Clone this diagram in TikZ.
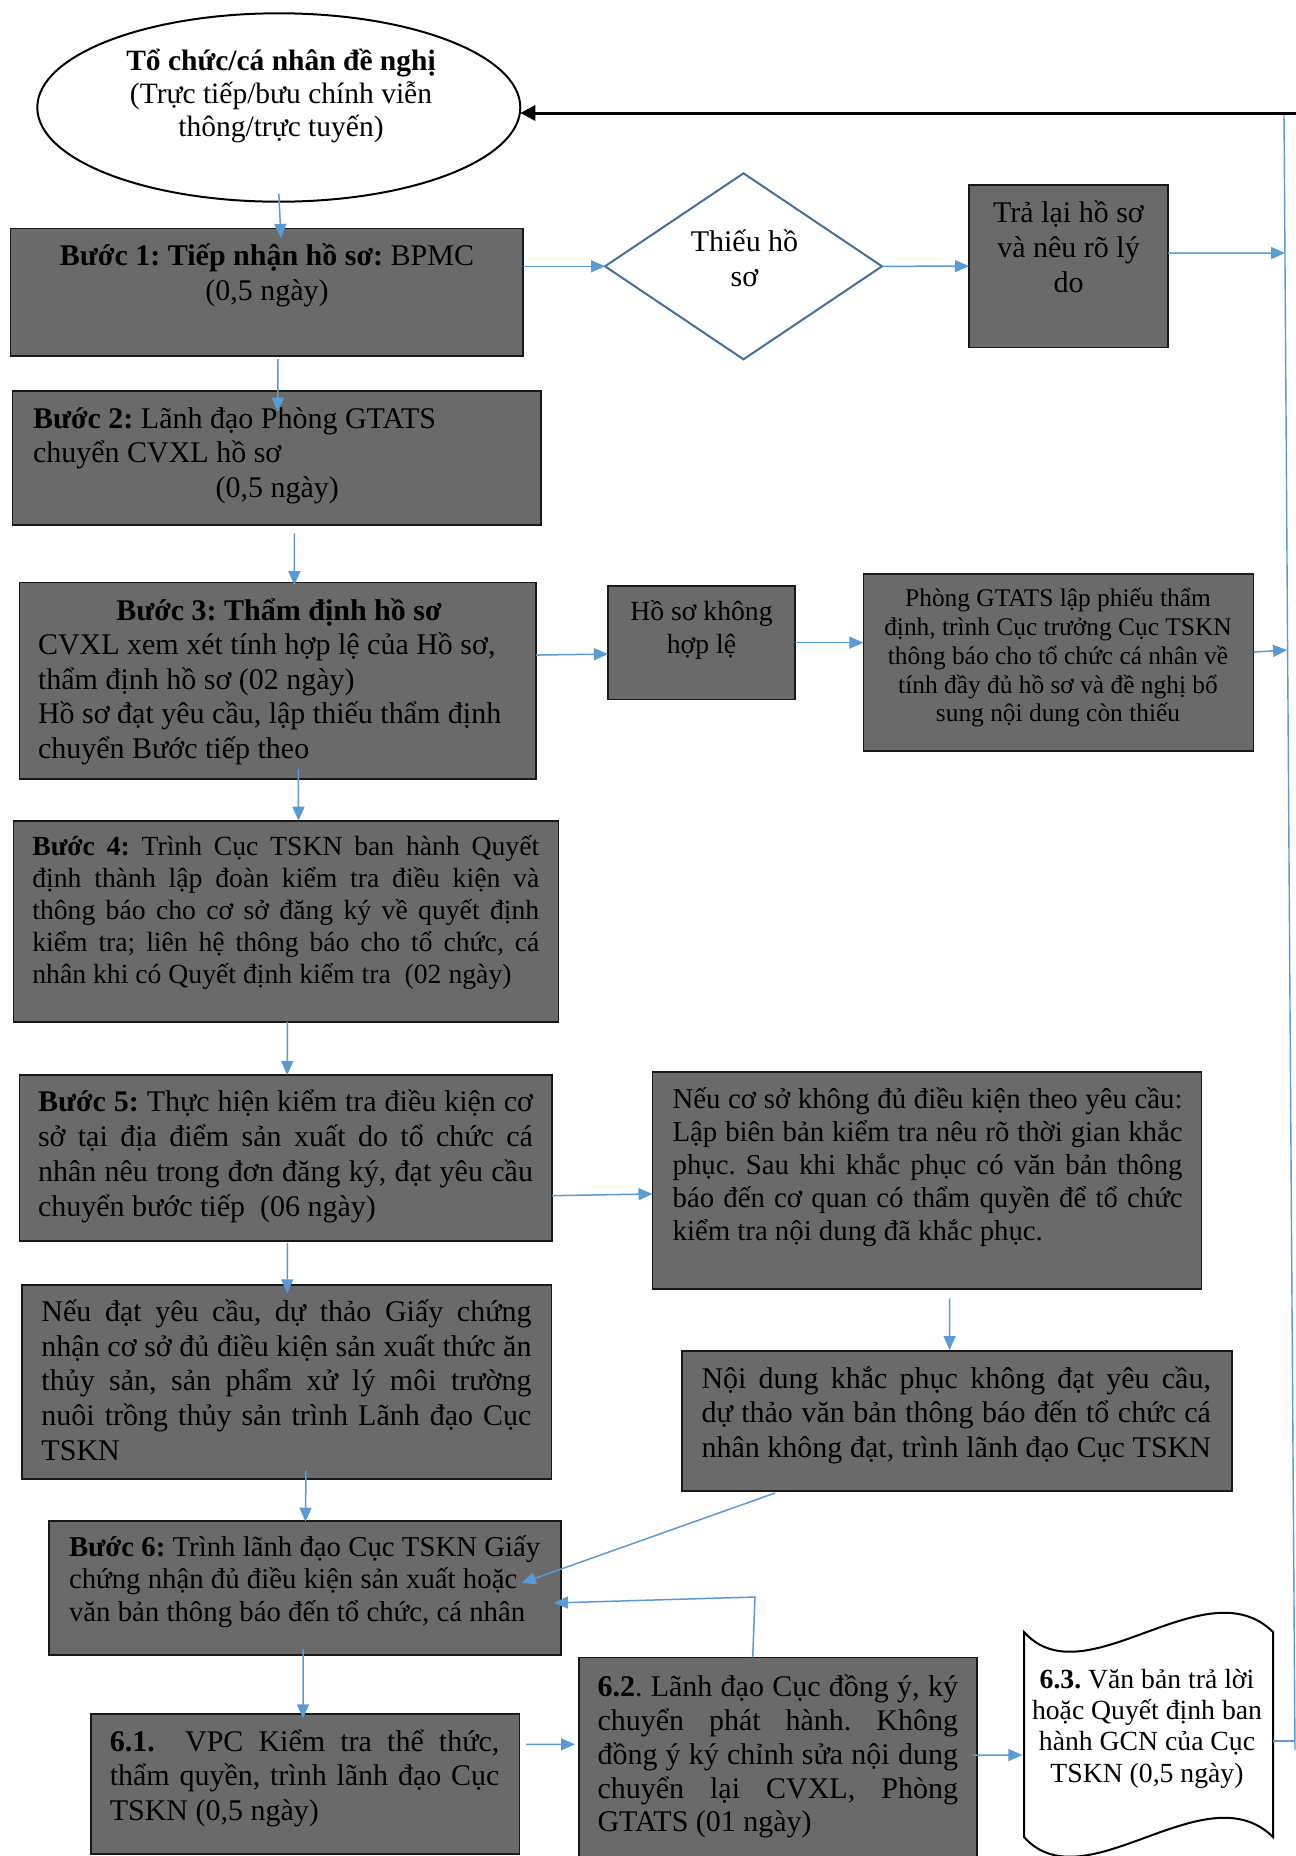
\documentclass[tikz,border=0pt]{standalone}
\usepackage{fontspec}
\setmainfont{Liberation Serif}
\usetikzlibrary{arrows.meta,calc,shapes.geometric}
\frenchspacing

\definecolor{boxgray}{RGB}{106,106,106}
\definecolor{flowblue}{RGB}{91,155,213}
\definecolor{darkblue}{RGB}{65,113,156}

% font size in px-sized points
\newcommand\fs[1]{\fontsize{#1pt}{#1pt}\selectfont}
% a stack of lines with a fixed baseline distance; the base is the first line
\newcommand\Par[2]{\vtop{\baselineskip=#1\relax\lineskiplimit=-\maxdimen #2}}
\newcommand\CL[2]{\hbox to #1{\hss#2\hss}}
\newcommand\JL[2]{\hbox to #1{#2}}
\newcommand\LL[1]{\hbox{#1}}

\tikzset{
  stepbox/.style={draw=black!90, line width=1.6pt, fill=boxgray, inner sep=0pt, outer sep=0pt, anchor=north west},
  flow/.style={draw=flowblue, line width=1.5pt, -{Triangle[length=14pt,width=12pt]}},
  plainflow/.style={draw=flowblue, line width=1.4pt},
  backflow/.style={draw=black, line width=3pt, -{Triangle[length=15pt,width=15pt]}},
  txt/.style={inner sep=0pt, outer sep=0pt, anchor=base west, text=black},
}

\begin{document}
\begin{tikzpicture}[x=1pt,y=-1pt]
\path[use as bounding box] (0,0) rectangle (1296,1856);
\clip (0,0) rectangle (1296,1856);
\fill[white] (0,0) rectangle (1296,1856);

% ---------- shapes ----------
\node[draw=black, line width=2pt, ellipse, minimum width=483pt, minimum height=188.4pt, inner sep=0pt, outer sep=0pt] (ell) at (278.8,107.5) {};
\node[stepbox, minimum width=512.8pt, minimum height=127.7pt] (b1) at (10.4,228.3) {};
\node[draw=darkblue, line width=2pt, diamond, minimum width=277pt, minimum height=186pt, inner sep=0pt, outer sep=0pt] (dia) at (743.5,266.3) {};
\node[stepbox, minimum width=199pt, minimum height=162.3pt] (tra) at (969,185) {};
\node[stepbox, minimum width=528.6pt, minimum height=134.3pt] (b2) at (12.4,390.7) {};
\node[stepbox, minimum width=516.5pt, minimum height=196.7pt] (b3) at (19.5,582.3) {};
\node[stepbox, minimum width=187pt, minimum height=113.3pt] (hsk) at (608,586) {};
\node[stepbox, minimum width=390.1pt, minimum height=176.7pt] (pgt) at (863.4,574) {};
\node[stepbox, minimum width=545.2pt, minimum height=201pt] (b4) at (13.3,820.7) {};
\node[stepbox, minimum width=532.7pt, minimum height=165.7pt] (b5) at (19.5,1075) {};
\node[stepbox, minimum width=549pt, minimum height=217.3pt] (ncs) at (652.5,1071.7) {};
\node[stepbox, minimum width=550.2pt, minimum height=140pt] (ndk) at (681.8,1351) {};
\node[stepbox, minimum width=529.4pt, minimum height=194pt] (ndt) at (22,1285) {};
\node[stepbox, minimum width=511.7pt, minimum height=134.3pt] (b6) at (49,1520.7) {};
\node[stepbox, minimum width=428.6pt, minimum height=140pt] (s61) at (90.7,1714) {};
\node[stepbox, minimum width=398.2pt, minimum height=212.7pt] (s62) at (578.8,1657.3) {};
% punched-tape outline of step 6.3
\draw[line width=2pt, fill=white] (1024,1632) .. controls (1085,1700) and (1205,1565) .. (1273,1632)
  -- (1273,1837) .. controls (1205,1770) and (1085,1905) .. (1024,1837) -- cycle;
\node[inner sep=0pt, outer sep=0pt, minimum width=249pt, minimum height=205pt, anchor=north west] (s63) at (1024,1632) {};

% ---------- texts ----------
\node[txt, font=\fs{29.5}] (tell) at (71,70) {\Par{33.3pt}{%
  \CL{420pt}{\bfseries Tổ chức/cá nhân đề nghị}%
  \CL{420pt}{(Trực tiếp/bưu chính viễn}%
  \CL{420pt}{thông/trực tuyến)}}};
\node[txt, font=\fs{30}] (tb1) at (17,265.7) {\Par{34.3pt}{%
  \CL{500pt}{\textbf{Bước 1: Tiếp nhận hồ sơ:} BPMC}%
  \CL{500pt}{(0,5 ngày)}}};
\node[txt, font=\fs{30}] (tdia) at (624.5,251.7) {\Par{35pt}{%
  \CL{240pt}{Thiếu hồ}%
  \CL{240pt}{sơ}}};
\node[txt, font=\fs{30}] (ttra) at (973.5,222.7) {\Par{35pt}{%
  \CL{190pt}{Trả lại hồ sơ}%
  \CL{190pt}{và nêu rõ lý}%
  \CL{190pt}{do}}};
\node[txt, font=\fs{30}] (tb2) at (33,428.3) {\Par{34.5pt}{%
  \LL{\textbf{Bước 2:} Lãnh đạo Phòng GTATS}%
  \LL{chuyển CVXL hồ sơ}%
  \LL{\hskip182.6pt(0,5 ngày)}}};
\node[txt, font=\fs{30}] (tb3) at (38,620) {\Par{34.6pt}{%
  \CL{482pt}{\textbf{Bước 3: Thẩm định hồ sơ}}%
  \LL{CVXL xem xét tính hợp lệ của Hồ sơ,}%
  \LL{thẩm định hồ sơ (02 ngày)}%
  \LL{Hồ sơ đạt yêu cầu, lập thiếu thẩm định}%
  \LL{chuyển Bước tiếp theo}}};
\node[txt, font=\fs{27.7}] (thsk) at (611.5,620) {\Par{33pt}{%
  \CL{180pt}{Hồ sơ không}%
  \CL{180pt}{hợp lệ}}};
\node[txt, font=\fs{25.4}] (tpgt) at (868,606.7) {\Par{28.8pt}{%
  \CL{380pt}{Phòng GTATS lập phiếu thẩm}%
  \CL{380pt}{định, trình Cục trưởng Cục TSKN}%
  \CL{380pt}{thông báo cho tổ chức cá nhân về}%
  \CL{380pt}{tính đầy đủ hồ sơ và đề nghị bổ}%
  \CL{380pt}{sung nội dung còn thiếu}}};
\node[txt, font=\fs{27.7}] (tb4) at (32.3,855) {\Par{32pt}{%
  \JL{507pt}{\textbf{Bước 4:} Trình Cục TSKN ban hành Quyết}%
  \JL{507pt}{định thành lập đoàn kiểm tra điều kiện và}%
  \JL{507pt}{thông báo cho cơ sở đăng ký về quyết định}%
  \JL{507pt}{kiểm tra; liên hệ thông báo cho tổ chức, cá}%
  \LL{nhân khi có Quyết định kiểm tra\space\space(02 ngày)}}};
\node[txt, font=\fs{30}] (tb5) at (38,1111.7) {\Par{34.8pt}{%
  \JL{495pt}{\textbf{Bước 5:} Thực hiện kiểm tra điều kiện cơ}%
  \JL{495pt}{sở tại địa điểm sản xuất do tổ chức cá}%
  \JL{495pt}{nhân nêu trong đơn đăng ký, đạt yêu cầu}%
  \LL{chuyển bước tiếp\space\space(06 ngày)}}};
\node[txt, font=\fs{28.8}] (tncs) at (672.6,1108.3) {\Par{33pt}{%
  \JL{510pt}{Nếu cơ sở không đủ điều kiện theo yêu cầu:}%
  \JL{510pt}{Lập biên bản kiểm tra nêu rõ thời gian khắc}%
  \JL{510pt}{phục. Sau khi khắc phục có văn bản thông}%
  \JL{510pt}{báo đến cơ quan có thẩm quyền để tổ chức}%
  \LL{kiểm tra nội dung đã khắc phục.}}};
\node[txt, font=\fs{30}] (tndk) at (701.5,1388.3) {\Par{34.4pt}{%
  \JL{509.5pt}{Nội dung khắc phục không đạt yêu cầu,}%
  \JL{509.5pt}{dự thảo văn bản thông báo đến tổ chức cá}%
  \JL{509.5pt}{nhân không đạt, trình lãnh đạo Cục TSKN}}};
\node[txt, font=\fs{30}] (tndt) at (41.5,1321.7) {\Par{34.6pt}{%
  \JL{490pt}{Nếu đạt yêu cầu, dự thảo Giấy chứng}%
  \JL{490pt}{nhận cơ sở đủ điều kiện sản xuất thức ăn}%
  \JL{490pt}{thủy sản, sản phẩm xử lý môi trường}%
  \JL{490pt}{nuôi trồng thủy sản trình Lãnh đạo Cục}%
  \LL{TSKN}}};
\node[txt, font=\fs{28.8}] (tb6) at (69,1556) {\Par{32.8pt}{%
  \LL{\textbf{Bước 6:} Trình lãnh đạo Cục TSKN Giấy}%
  \LL{chứng nhận đủ điều kiện sản xuất hoặc}%
  \LL{văn bản thông báo đến tổ chức, cá nhân}}};
\node[txt, font=\fs{30}] (ts61) at (109.8,1751.7) {\Par{34.2pt}{%
  \JL{389.6pt}{\textbf{6.1.}\space\space VPC Kiểm tra thể thức,}%
  \JL{389.6pt}{thẩm quyền, trình lãnh đạo Cục}%
  \LL{TSKN (0,5 ngày)}}};
\node[txt, font=\fs{30}] (ts62) at (597.5,1696.7) {\Par{33.8pt}{%
  \JL{360.5pt}{\textbf{6.2}. Lãnh đạo Cục đồng ý, ký}%
  \JL{360.5pt}{chuyển phát hành. Không}%
  \JL{360.5pt}{đồng ý ký chỉnh sửa nội dung}%
  \JL{360.5pt}{chuyển lại CVXL, Phòng}%
  \LL{GTATS (01 ngày)}}};
\node[txt, font=\fs{27.7}] (ts63) at (1027,1688.3) {\Par{31.3pt}{%
  \CL{240pt}{\textbf{6.3.} Văn bản trả lời}%
  \CL{240pt}{hoặc Quyết định ban}%
  \CL{240pt}{hành GCN của Cục}%
  \CL{240pt}{TSKN (0,5 ngày)}}};

% ---------- return line on the right ----------
\coordinate (rtop) at (1284,113);
\coordinate (rbot) at (1295,1750);
\coordinate (redge) at (1297,113);
\coordinate (r1) at (1285,253);
\coordinate (r2) at (1287,650);
\coordinate (r3) at (1295,1741);
\coordinate (c62) at (755,1597);
\draw[plainflow] (rtop) -- (rbot);
\draw[backflow] (redge) -- ([yshift=-5.5pt]ell.east);

% ---------- connectors ----------
\draw[flow] ([yshift=8pt]ell.south) -- ([xshift=14.2pt,yshift=-9.7pt]b1.north);
\draw[flow] ([xshift=11pt,yshift=-3pt]b1.south) -- ([xshift=1.1pt,yshift=-21pt]b2.north);
\draw[flow] (b1.east |- dia.west) -- (dia.west);
\draw[flow] (dia.east) -- (tra.west);
\draw[flow] ([yshift=13pt]tra.east) -- (r1);
\draw[flow] ([xshift=17.7pt,yshift=-8.3pt]b2.south) -- ([xshift=16.6pt,yshift=-2.7pt]b3.north);
\draw[flow] ([yshift=25.6pt]b3.east) -- ([yshift=-11.4pt]hsk.west);
\draw[flow] (hsk.east) -- (pgt.west |- hsk.east);
\draw[flow] ([yshift=10.3pt]pgt.east) -- (r2);
\draw[flow] ([xshift=20.7pt,yshift=10pt]b3.south) -- ([xshift=12.6pt]b4.north);
\draw[flow] ([xshift=1.4pt]b4.south) -- ([xshift=1.4pt]b5.north);
\draw[flow] ([yshift=-37.8pt]b5.east) -- ([yshift=-13.6pt]ncs.west);
\draw[flow] ([xshift=22.6pt,yshift=-9.3pt]ncs.south) -- ([xshift=-7.3pt,yshift=1pt]ndk.north);
\draw[flow] ([xshift=1.4pt,yshift=-2.3pt]b5.south) -- ([xshift=0.6pt,yshift=-8.3pt]ndt.north);
\draw[flow] ([xshift=19.3pt,yshift=8.3pt]ndt.south) -- ([xshift=0.6pt,yshift=-1pt]b6.north);
\draw[flow] ([xshift=-1.8pt,yshift=6pt]b6.south) -- ([xshift=-2pt,yshift=-4.3pt]s61.north);
\draw[flow] ([xshift=6.7pt,yshift=39.7pt]s61.east) -- ([xshift=-3.8pt,yshift=19.3pt]s62.west);
\draw[flow] ([xshift=-4pt,yshift=8.6pt]s62.east) -- ([xshift=-1.6pt,yshift=-20.5pt]s63.west);
\draw[plainflow] ([yshift=-6.5pt]s63.east) -- (r3);
\draw[flow] ([xshift=-181.9pt,yshift=-2pt]ndk.south) -- ([xshift=-39pt,yshift=4.8pt]b6.east);
\draw[flow] ([xshift=-25.2pt]s62.north) -- (c62) -- ([xshift=-6.7pt,yshift=-15.1pt]b6.east);
\end{tikzpicture}
\end{document}
